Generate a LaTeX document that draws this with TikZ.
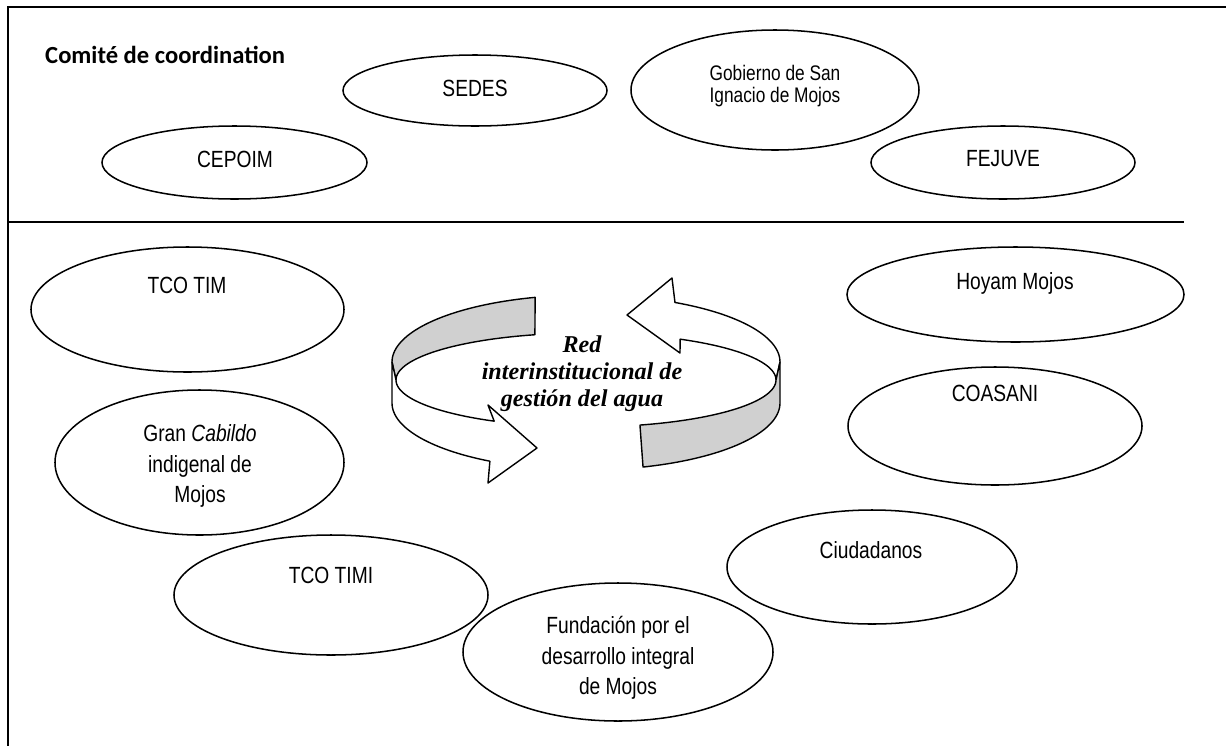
\documentclass[tikz,border=0pt]{standalone}
\usepackage{tikz}
\usepackage{xcolor}
\usepackage{fontspec}
\usetikzlibrary{shapes.geometric}
\newfontfamily\narrowSans[FakeStretch=0.82]{Liberation Sans}
\newfontfamily\carlitoFont{Carlito}
\newfontfamily\timesFont{Liberation Serif}
\definecolor{ribbonGray}{RGB}{208,208,208}

\begin{document}
\begin{tikzpicture}[x=0.03cm, y=-0.03cm]
            % Styles
            \tikzstyle{org} = [ellipse, draw, line width=1.3pt, inner sep=0pt]
            \tikzstyle{orgtext} = [inner sep=0pt, align=center, font=\narrowSans\fontsize{20}{26}\selectfont]
            \tikzstyle{ribbon} = [line width=1.2pt, line join=round]
            \tikzstyle{frame} = [line width=1.6pt]

            \useasboundingbox (0,0) rectangle (1226,746);

            % Frame
            \draw[frame] (1226,7) -- (8,7) -- (8,746);
            \draw[frame] (8,222) -- (1184,222);

            % Nodes
            \node[org, minimum width=7.95cm, minimum height=2.19cm] (cepoim) at (234.5,162.5) {};
            \node[org, minimum width=7.92cm, minimum height=2.13cm] (sedes) at (475,90.5) {};
            \node[org, minimum width=8.64cm, minimum height=3.6cm] (gobierno) at (775,90) {};
            \node[org, minimum width=7.92cm, minimum height=2.19cm] (fejuve) at (1003,162.5) {};
            \node[org, minimum width=9.39cm, minimum height=3.75cm] (tcoTim) at (187.5,309.5) {};
            \node[org, minimum width=10.11cm, minimum height=2.85cm] (hoyam) at (1015.5,294.5) {};
            \node[org, minimum width=8.67cm, minimum height=4.35cm] (cabildo) at (199.5,462.5) {};
            \node[org, minimum width=8.82cm, minimum height=3.54cm] (coasani) at (995,426) {};
            \node[org, minimum width=9.42cm, minimum height=3.6cm] (tcoTimi) at (331,595) {};
            \node[org, minimum width=8.7cm, minimum height=3.42cm] (ciudadanos) at (872,567) {};
            \node[org, minimum width=9.3cm, minimum height=4.14cm] (fundacion) at (618,652) {};

            % Labels
            \node[anchor=west, inner sep=0pt, font=\carlitoFont\bfseries\fontsize{21}{25}\selectfont] (comite) at (45,55) {Comité de coordination};
            \node[orgtext] (cepoimLbl) at (235,159) {CEPOIM};
            \node[orgtext] (sedesLbl) at (475,88) {SEDES};
            \node[orgtext, font=\narrowSans\fontsize{18}{19.5}\selectfont] (gobiernoLbl) at (775,86) {Gobierno de San\\Ignacio de Mojos};
            \node[orgtext] (fejuveLbl) at (1003,159) {FEJUVE};
            \node[orgtext] (tcoTimLbl) at (187,285) {TCO TIM};
            \node[orgtext] (hoyamLbl) at (1015,283) {Hoyam Mojos};
            \node[orgtext] (cabildoLbl) at (200,466) {Gran \textit{Cabildo}\\indigenal de\\Mojos};
            \node[orgtext] (coasaniLbl) at (995,393) {COASANI};
            \node[orgtext] (tcoTimiLbl) at (331,575) {TCO TIMI};
            \node[orgtext] (ciudadanosLbl) at (871,550) {Ciudadanos};
            \node[orgtext] (fundacionLbl) at (618,658) {Fundación por el\\desarrollo integral\\de Mojos};

            % Circular arrows
            \filldraw[ribbon, fill=ribbonGray] plot[domain=105.2:180, samples=40, variable=\t] ({586+194*cos(\t)},{362-67*sin(\t)})
                -- plot[domain=180:105.6, samples=40, variable=\t] ({586+190*cos(\t)},{380-47*sin(\t)}) -- cycle;
            \filldraw[ribbon, fill=white] (392,362) -- plot[domain=180:241.1, samples=40, variable=\t] ({586+190*cos(\t)},{380-47*sin(\t)})
                -- (488,405) -- (537,448) -- (488,483)
                -- plot[domain=240.3:180, samples=40, variable=\t] ({586+194*cos(\t)},{403-67*sin(\t)}) -- cycle;
            \filldraw[ribbon, fill=white] plot[domain=62.7:0, samples=40, variable=\t] ({586+194*cos(\t)},{362-67*sin(\t)})
                -- plot[domain=0:60.3, samples=40, variable=\t] ({586+190*cos(\t)},{380-47*sin(\t)})
                -- (680,353) -- (627,315) -- (672,278) -- cycle;
            \filldraw[ribbon, fill=ribbonGray] (780,362) -- plot[domain=0:-73.5, samples=40, variable=\t] ({586+190*cos(\t)},{380-47*sin(\t)})
                -- plot[domain=-72.9:0, samples=40, variable=\t] ({586+194*cos(\t)},{403-67*sin(\t)}) -- cycle;

            % Centre
            \node[inner sep=0pt, align=center, font=\timesFont\bfseries\itshape\fontsize{20.6}{23}\selectfont] (red) at (582,374) {Red\\interinstitucional de\\gestión del agua};
        \end{tikzpicture}
\end{document}
